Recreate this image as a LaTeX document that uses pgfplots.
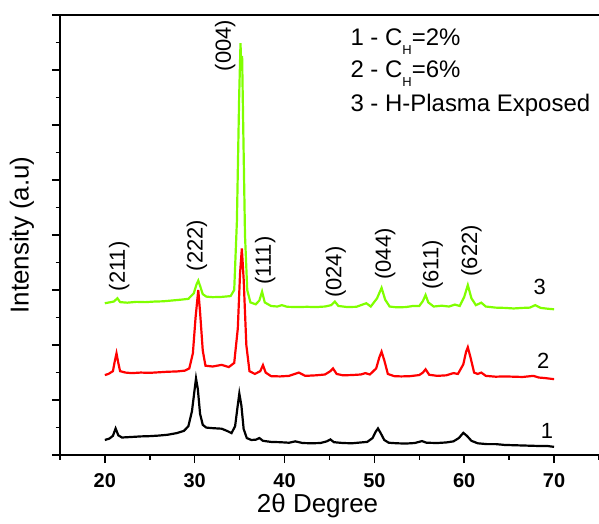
\documentclass[border=0pt]{standalone}
\usepackage{fontspec}
\setmainfont{Liberation Sans}
\usepackage{pgfplots}
\pgfplotsset{compat=1.18}
\definecolor{xgreen}{RGB}{128,255,0}
\definecolor{xred}{RGB}{255,0,0}
\begin{document}
\begin{tikzpicture}
\begin{axis}[
  scale only axis, width=270pt, height=220.5pt,
  xmin=15, xmax=75, ymin=0, ymax=16,
  axis x line*=box, axis y line*=left,
  axis line style={-, line width=0.9pt},
  xtick={20,30,...,70}, minor xtick={15,25,...,75},
  ytick={0,2,...,16}, minor ytick={1,3,...,15},
  yticklabels={},
  xtick pos=left, ytick pos=left,
  tick align=outside,
  major tick length=4pt, minor tick length=2.2pt,
  tick style={line width=0.8pt, black},
  /pgf/number format/assume math mode=true,
  xticklabel style={font=\bfseries\fontsize{10}{12}\selectfont, yshift=-1.5pt},
  xlabel={2θ Degree},
  ylabel={Intensity (a.u)},
  every axis x label/.style={at={(axis description cs:0.478,-0.131)}, anchor=base, font=\fontsize{13}{15}\selectfont},
  every axis y label/.style={at={(axis description cs:-0.0704,0.5)}, rotate=90, anchor=center, font=\fontsize{13}{15}\selectfont},
  clip=false,
]
% curve 1
\addplot[black, line width=1.1pt] coordinates {
(20.0,0.55)(20.5,0.60)(20.9,0.70)(21.2,0.97)(21.5,0.72)(21.9,0.64)(23,0.66)(24,0.68)(25,0.69)(26,0.71)(27,0.74)(28,0.80)(28.8,0.88)(29.3,1.05)(29.7,1.6)(30.0,2.4)(30.15,2.79)(30.35,2.4)(30.6,1.5)(30.9,1.1)(31.3,1.0)(32,0.98)(33,0.96)(33.6,0.88)(34.1,0.80)(34.5,1.05)(34.75,1.7)(34.97,2.24)(35.2,1.8)(35.45,0.95)(35.8,0.62)(36.3,0.55)(36.8,0.56)(37.2,0.62)(37.6,0.52)(38.5,0.48)(39.5,0.47)(40.5,0.45)(41.2,0.50)(42,0.44)(43,0.43)(44,0.44)(44.7,0.50)(45.1,0.57)(45.5,0.47)(46.5,0.44)(47.5,0.43)(48.5,0.46)(49.2,0.48)(49.8,0.62)(50.15,0.85)(50.4,0.97)(50.7,0.80)(51.1,0.55)(51.6,0.45)(52.5,0.43)(53.5,0.42)(54.5,0.44)(55.3,0.51)(55.8,0.45)(57,0.44)(58,0.46)(58.8,0.50)(59.4,0.62)(59.9,0.81)(60.3,0.70)(60.8,0.52)(61.5,0.43)(62.5,0.40)(63.5,0.40)(64.5,0.37)(65.5,0.36)(66.5,0.35)(67.5,0.34)(68.5,0.33)(69.3,0.33)(70.0,0.30)
};
% curve 2
\addplot[xred, line width=1.1pt] coordinates {
(20.0,2.91)(20.4,2.95)(20.9,3.05)(21.1,3.40)(21.3,3.70)(21.5,3.35)(21.7,3.05)(22.3,3.00)(23,2.98)(24,3.00)(25,2.99)(26,3.01)(27,3.03)(28,3.04)(28.9,3.07)(29.4,3.15)(29.8,3.7)(30.1,5.0)(30.4,6.0)(30.6,5.2)(30.9,3.8)(31.2,3.25)(32,3.22)(33.0,3.28)(33.8,3.20)(34.4,3.35)(34.8,4.6)(35.05,6.6)(35.25,7.51)(35.45,6.4)(35.75,4.0)(36.1,3.05)(36.7,2.95)(37.3,3.05)(37.6,3.27)(37.9,3.0)(38.5,2.87)(39.5,2.86)(40.5,2.88)(41.6,3.00)(42.3,2.88)(43.5,2.90)(44.5,2.93)(45.1,3.05)(45.4,3.15)(45.8,2.95)(46.5,2.90)(47.5,2.91)(48.5,2.93)(49.0,2.98)(49.5,2.93)(50.2,3.15)(50.55,3.55)(50.8,3.76)(51.1,3.45)(51.5,2.95)(52.2,2.87)(53,2.86)(54,2.87)(55,2.91)(55.4,3.0)(55.7,3.12)(56.1,2.92)(57,2.88)(58,2.90)(58.8,2.98)(59.3,2.95)(59.9,3.3)(60.2,3.75)(60.4,3.92)(60.7,3.55)(61.1,3.0)(61.5,2.95)(61.9,3.00)(62.4,2.88)(63.5,2.85)(64.5,2.86)(65.5,2.85)(66.5,2.84)(67.7,2.88)(68.3,2.82)(69,2.80)(70,2.76)
};
% curve 3
\addplot[xgreen, line width=1.1pt] coordinates {
(20.0,5.52)(20.5,5.55)(21.0,5.58)(21.4,5.70)(21.7,5.56)(22.5,5.54)(23.5,5.57)(24.5,5.56)(25.5,5.58)(26.5,5.59)(27.5,5.62)(28.5,5.65)(29.3,5.68)(29.9,5.88)(30.2,6.20)(30.4,6.34)(30.6,6.15)(30.9,5.85)(31.3,5.76)(32,5.74)(33,5.75)(34.0,5.78)(34.4,6.0)(34.7,8.5)(34.95,13.0)(35.1,14.97)(35.2,14.0)(35.28,14.5)(35.4,12.0)(35.6,8.0)(35.85,6.0)(36.2,5.55)(36.8,5.48)(37.2,5.62)(37.5,5.94)(37.8,5.55)(38.5,5.42)(39.2,5.40)(39.7,5.45)(40.3,5.39)(41.5,5.38)(42.5,5.39)(43.5,5.38)(44.5,5.40)(45.2,5.45)(45.6,5.58)(46.0,5.42)(47,5.38)(48,5.39)(49.1,5.52)(49.6,5.40)(50.3,5.70)(50.8,6.08)(51.2,5.65)(51.7,5.40)(52.5,5.37)(53.5,5.38)(54.3,5.42)(55.0,5.42)(55.4,5.60)(55.7,5.82)(56.0,5.55)(56.6,5.40)(57.5,5.43)(58.3,5.40)(58.96,5.47)(59.5,5.42)(60.0,5.75)(60.4,6.18)(60.8,5.70)(61.3,5.45)(61.9,5.54)(62.4,5.40)(63.5,5.36)(64.5,5.35)(65.5,5.33)(66.5,5.35)(67.3,5.36)(67.9,5.45)(68.5,5.35)(69.3,5.32)(70.0,5.30)
};
% peak labels
\begin{scope}[every node/.style={rotate=90, anchor=west, inner sep=0pt, font=\fontsize{11}{13}\selectfont}]
\node at (axis cs:21.6,5.94) {(211)};
\node at (axis cs:30.25,6.67) {(222)};
\node at (axis cs:33.4,13.94) {(004)};
\node at (axis cs:37.85,6.18) {(111)};
\node at (axis cs:45.7,5.70) {(024)};
\node at (axis cs:51.2,6.36) {(044)};
\node at (axis cs:56.5,6.0) {(611)};
\node at (axis cs:60.8,6.48) {(622)};
\end{scope}
% curve numbers
\begin{scope}[every node/.style={anchor=base, inner sep=0pt, font=\fontsize{11}{13}\selectfont}]
\node at (axis cs:68.4,5.82) {3};
\node at (axis cs:68.8,3.13) {2};
\node at (axis cs:69.2,0.61) {1};
\end{scope}
% legend text
\begin{scope}[every node/.style={anchor=base west, inner sep=0pt, font=\fontsize{12}{14}\selectfont}]
\node at (axis cs:47.3,14.87) {1 - C\raisebox{-4.3pt}{\fontsize{6.5}{7}\selectfont H}=2\%};
\node at (axis cs:47.3,13.71) {2 - C\raisebox{-4.3pt}{\fontsize{6.5}{7}\selectfont H}=6\%};
\node at (axis cs:47.3,12.47) {3 - H-Plasma Exposed};
\end{scope}
\end{axis}
\pgfresetboundingbox
\path[use as bounding box] (current axis.south west) ++(-30pt,-34pt) rectangle ++(300pt,261.94pt);
\end{tikzpicture}
\end{document}
